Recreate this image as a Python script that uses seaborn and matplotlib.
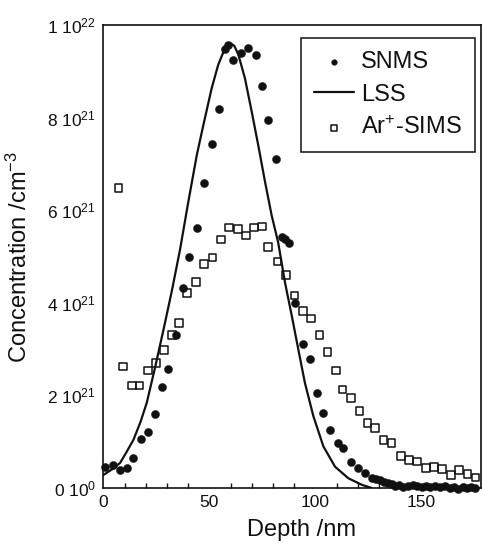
import matplotlib
matplotlib.use("Agg")
import numpy as np
import pandas as pd
import seaborn as sns
import matplotlib.pyplot as plt
from matplotlib.ticker import MultipleLocator, FixedLocator, FixedFormatter

# ---------------- data (concentration in units of 1e21 cm^-3) ----------------
snms_depth = [0.8, 4.7, 7.9, 11.0, 14.2, 17.6, 21.2, 24.4, 27.5, 30.7, 34.4, 37.7,
              40.6, 44.3, 47.6, 51.4, 54.6, 57.4, 59.0, 61.3, 65.0, 68.4, 71.9,
              75.0, 77.8, 81.3, 84.2, 85.7, 87.7, 90.4, 94.3, 97.5, 100.7, 103.5,
              106.9, 110.8, 113.2, 116.8, 120.3, 123.4, 126.6, 128.5, 130.5, 132.5,
              134.4, 136.0, 137.6, 139.5, 141.6, 143.5, 146.2, 148.0, 150.2, 152.0,
              154.1, 156.5, 158.8, 161.0, 163.5, 165.5, 167.5, 169.5, 171.4, 173.5,
              175.5]
snms_conc = [0.46, 0.50, 0.39, 0.43, 0.64, 1.06, 1.20, 1.60, 2.18, 2.58, 3.30, 4.33,
             5.00, 5.62, 6.59, 7.43, 8.18, 9.49, 9.57, 9.25, 9.39, 9.50, 9.36,
             8.69, 7.95, 7.11, 5.42, 5.38, 5.29, 4.00, 3.12, 2.78, 2.05, 1.62,
             1.26, 0.97, 0.86, 0.57, 0.43, 0.32, 0.21, 0.19, 0.17, 0.13,
             0.10, 0.08, 0.05, 0.06, 0.03, 0.05, 0.07, 0.04, 0.03, 0.05,
             0.02, 0.04, 0.03, 0.04, 0.00, 0.03, -0.02, 0.02, 0.00, 0.02,
             0.01]

lss_depth = [0.0, 4.0, 7.9, 11.0, 14.2, 17.5, 20.5, 24.4, 28.3, 32.3, 36.2, 40.1,
             44.1, 47.2, 51.1, 54.2, 57.4, 59.8, 61.8, 63.7, 66.8, 70.0, 73.1,
             76.3, 79.4, 82.5, 85.7, 88.9, 92.0, 95.1, 99.1, 103.8, 109.3, 115.6,
             121.9, 126.6]
lss_conc = [0.28, 0.40, 0.54, 0.78, 1.04, 1.42, 1.84, 2.60, 3.40, 4.25, 5.15, 6.18,
            7.19, 7.84, 8.63, 9.14, 9.50, 9.61, 9.55, 9.36, 8.85, 8.13, 7.40,
            6.61, 5.89, 5.30, 4.44, 3.72, 2.99, 2.27, 1.55, 0.90, 0.46, 0.21,
            0.07, 0.00]

sims_depth = [7.1, 9.4, 13.4, 17.0, 21.2, 24.9, 28.6, 32.3, 35.8, 39.6, 43.7, 47.5,
              51.6, 55.4, 59.2, 63.4, 67.2, 71.2, 75.0, 77.8, 82.2, 86.2, 90.1,
              94.1, 98.0, 101.9, 105.8, 109.8, 112.9, 116.8, 120.8, 124.6, 128.2,
              132.1, 136.0, 140.3, 144.2, 148.1, 152.1, 156.0, 159.9, 163.9, 167.8,
              171.7, 175.5]
sims_conc = [6.48, 2.62, 2.21, 2.21, 2.54, 2.70, 2.98, 3.30, 3.57, 4.21, 4.45, 4.84,
             4.98, 5.37, 5.63, 5.60, 5.45, 5.63, 5.65, 5.20, 4.89, 4.60, 4.16,
             3.82, 3.66, 3.30, 2.94, 2.54, 2.13, 1.95, 1.66, 1.40, 1.29,
             1.04, 0.97, 0.69, 0.61, 0.57, 0.43, 0.45, 0.41, 0.28, 0.39,
             0.30, 0.23]

y_ticks = [0, 2, 4, 6, 8, 10]
y_tick_labels = [r"$\mathregular{0\ 10^{0}}$", r"$\mathregular{2\ 10^{21}}$",
                 r"$\mathregular{4\ 10^{21}}$", r"$\mathregular{6\ 10^{21}}$",
                 r"$\mathregular{8\ 10^{21}}$", r"$\mathregular{1\ 10^{22}}$"]
x_ticks = [0, 50, 100, 150]

SCALE = 1e21
snms = pd.DataFrame({"depth": snms_depth, "conc": np.array(snms_conc) * SCALE})
lss = pd.DataFrame({"depth": lss_depth, "conc": np.array(lss_conc) * SCALE})
sims = pd.DataFrame({"depth": sims_depth, "conc": np.array(sims_conc) * SCALE})

# ---------------- style ----------------
sns.set_style("white")
plt.rcParams["font.family"] = ["Liberation Sans", "DejaVu Sans"]
plt.rcParams["mathtext.fontset"] = "custom"
plt.rcParams["mathtext.rm"] = "Liberation Sans"
plt.rcParams["mathtext.it"] = "Liberation Sans:italic"
plt.rcParams["mathtext.bf"] = "Liberation Sans:bold"

INK = "#111111"
W, H = 482, 550
fig = plt.figure(figsize=(W / 100, H / 100), dpi=100)
ax_l, ax_r, ax_t, ax_b = 103.3, 481.0, 25.0, 488.0
ax = fig.add_axes([ax_l / W, 1 - ax_b / H, (ax_r - ax_l) / W, (ax_b - ax_t) / H])

sns.scatterplot(data=snms, x="depth", y="conc", marker="o", s=34, color=INK,
                edgecolor=INK, linewidth=0.3, label="SNMS", ax=ax, clip_on=False,
                zorder=3)
sns.lineplot(data=lss, x="depth", y="conc", color=INK, linewidth=1.6,
             label="LSS", ax=ax, sort=False, estimator=None, zorder=2)
sns.scatterplot(data=sims, x="depth", y="conc", marker="s", s=30,
                facecolor="none", edgecolor=INK, linewidth=1.1,
                label=r"Ar$^{+}$-SIMS", ax=ax, clip_on=False, zorder=4)

ax.set_xlim(0, (ax_r - ax_l) / 2.12)
ax.set_ylim(0, 1.0e22)

ax.xaxis.set_major_locator(FixedLocator(x_ticks))
ax.xaxis.set_minor_locator(MultipleLocator(10))
ax.yaxis.set_major_locator(FixedLocator([v * SCALE for v in y_ticks]))
ax.yaxis.set_major_formatter(FixedFormatter(y_tick_labels))

ax.tick_params(axis="both", which="major", direction="in", length=6, width=1.1,
               labelsize=12.5, color=INK, labelcolor=INK)
ax.tick_params(axis="x", which="major", pad=5)
ax.tick_params(axis="y", which="major", pad=5)
ax.tick_params(axis="x", which="minor", direction="in", length=3.5, width=1.0,
               color=INK, bottom=True)
ax.tick_params(top=False, right=False)

for sp in ax.spines.values():
    sp.set_visible(True)
    sp.set_color(INK)
    sp.set_linewidth(1.2)

ax.set_xlabel("Depth /nm", fontsize=17, color=INK)
ax.set_ylabel(r"Concentration /cm$^{-3}$", fontsize=17, color=INK)
ax.xaxis.set_label_coords(0.526, -0.068)
ax.yaxis.set_label_coords(-0.188, 0.5)

handles, labels = ax.get_legend_handles_labels()
order = ["SNMS", "LSS", r"Ar$^{+}$-SIMS"]
hmap = dict(zip(labels, handles))
leg = ax.legend([hmap[k] for k in order], order, loc="upper right",
                bbox_to_anchor=(0.984, 0.972), borderaxespad=0, fontsize=17,
                frameon=True, fancybox=False, framealpha=1, edgecolor=INK,
                handlelength=1.7, handletextpad=0.3, borderpad=0.55,
                labelspacing=0.45, markerscale=0.7)
leg.get_frame().set_linewidth(1.1)
for t in leg.get_texts():
    t.set_color(INK)

fig.savefig("out.png", dpi=100, facecolor="white")
